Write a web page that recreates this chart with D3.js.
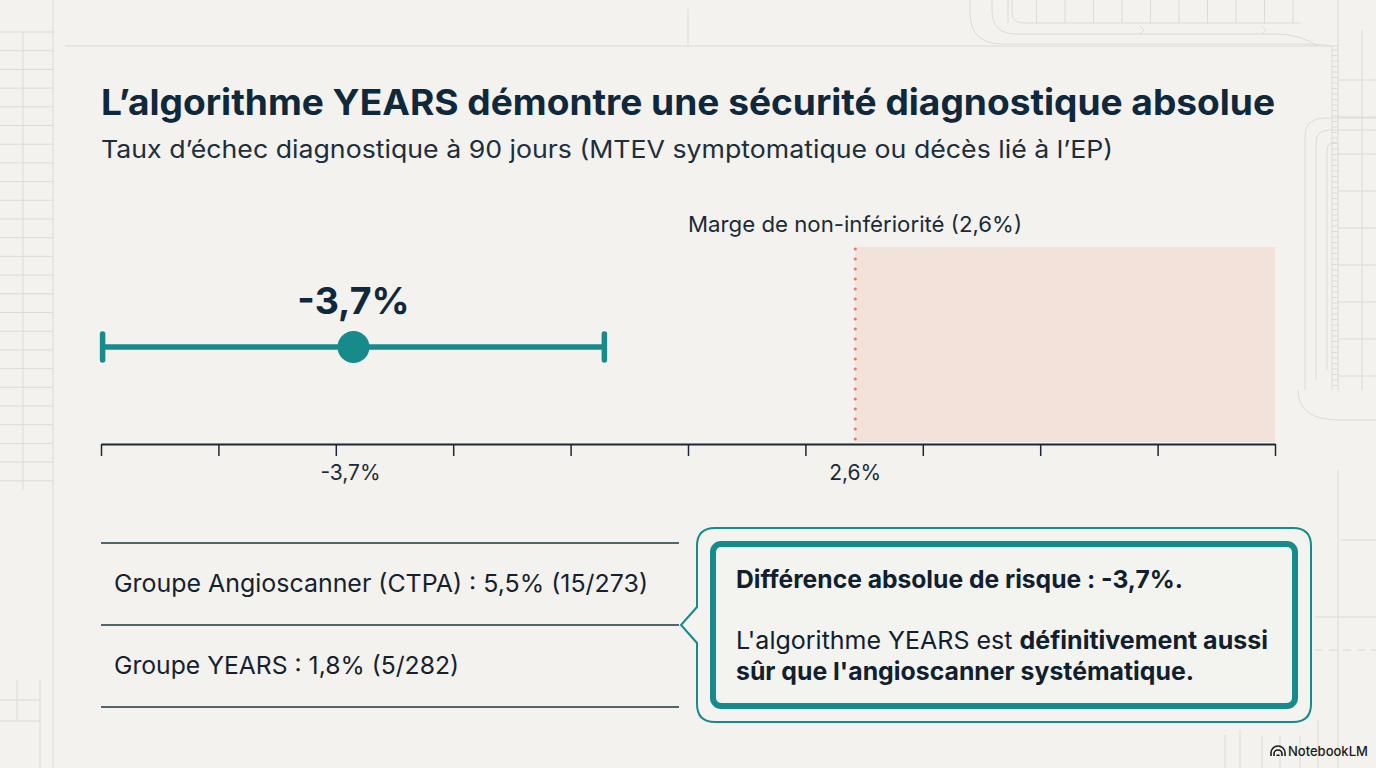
<!DOCTYPE html>
<html><head><meta charset="utf-8">
<script src="https://cdn.jsdelivr.net/npm/d3@7"></script>
<style>
html,body{margin:0;padding:0;background:#f3f2ee;}
svg{display:block;font-family:Inter,Roboto,"Noto Sans",sans-serif;}
</style></head>
<body><svg id="c" width="1376" height="768"></svg>
<script>
// ---- data ----
const title = "L’algorithme YEARS démontre une sécurité diagnostique absolue";
const subtitle = "Taux d’échec diagnostique à 90 jours (MTEV symptomatique ou décès lié à l’EP)";
const estimate = -3.7;          // absolute risk difference (%)
const ciLow = -6.85, ciHigh = -0.55;
const margin = 2.6;              // non-inferiority margin (%)
const axisDomain = [-6.87, 7.87];
const tickCount = 11;
const tickLabelValues = [-3.7, 2.6];
const tickLabels = ["-3,7%", "2,6%"];
const marginLabel = "Marge de non-infériorité (2,6%)";
const groupRows = ["Groupe Angioscanner (CTPA) : 5,5% (15/273)", "Groupe YEARS : 1,8% (5/282)"];
const calloutTitle = "Différence absolue de risque : -3,7%.";

const svg = d3.select("#c");
const W = 1376, H = 768;
const ink = "#10283b", teal = "#178a8c";

// ---- background decorations ----
const deco = svg.append("g").attr("stroke", "#dcdbd6").attr("fill", "none").attr("stroke-width", 1);
deco.append("line").attr("x1", 53).attr("x2", 53).attr("y1", 0).attr("y2", H);
deco.append("line").attr("x1", 65).attr("x2", 1338).attr("y1", 46).attr("y2", 46);
deco.append("line").attr("x1", 688).attr("x2", 688).attr("y1", 9).attr("y2", 46);
d3.range(32, 495, 18.7).forEach(y => deco.append("line").attr("x1", 0).attr("x2", 53).attr("y1", y).attr("y2", y));
deco.append("line").attr("x1", 23).attr("x2", 23).attr("y1", 32).attr("y2", 490);
deco.append("line").attr("x1", 0).attr("x2", 40).attr("y1", 700).attr("y2", 700);
deco.append("line").attr("x1", 0).attr("x2", 40).attr("y1", 721).attr("y2", 721);
deco.append("line").attr("x1", 40).attr("x2", 40).attr("y1", 680).attr("y2", H);
deco.append("line").attr("x1", 17).attr("x2", 17).attr("y1", 680).attr("y2", 721);
// top right circuit lines
deco.append("path").attr("d", "M970,0 V12 Q970,44 1002,44 H1300 Q1320,44 1330,46");
deco.append("path").attr("d", "M992,0 V10 Q992,34 1016,34 H1275 Q1300,34 1318,46");
deco.append("path").attr("d", "M1012,0 V12 Q1012,23 1023,23 H1300");
d3.range(1008, 1300, 28.5).forEach(x => deco.append("line").attr("x1", x).attr("x2", x).attr("y1", 0).attr("y2", 23));
deco.append("path").attr("d", "M1140,30 l4,4 l-4,4").attr("transform", "translate(0,-4)");
deco.append("path").attr("d", "M1262,30 l4,4 l-4,4").attr("transform", "translate(0,-4)");
// right side
deco.append("line").attr("x1", 1338).attr("x2", 1338).attr("y1", 0).attr("y2", 390);
deco.append("line").attr("x1", 1332).attr("x2", 1332).attr("y1", 46).attr("y2", 390);
d3.range(50, 390, 5.5).forEach(y => deco.append("line").attr("x1", 1332).attr("x2", 1338).attr("y1", y).attr("y2", y));
d3.range(80, 390, 37).forEach(y => deco.append("line").attr("x1", 1338).attr("x2", W).attr("y1", y).attr("y2", y));
deco.append("line").attr("x1", 1362).attr("x2", 1362).attr("y1", 30).attr("y2", 390);
deco.append("path").attr("d", "M1305,390 V136 Q1305,118 1325,118 H1376");
deco.append("path").attr("d", "M1316,380 V142 Q1316,130 1330,130 H1376");
deco.append("path").attr("d", "M1327,370 V150 Q1327,142 1337,142");
deco.append("path").attr("d", "M1376,420 H1340 Q1298,420 1298,390");
deco.append("path").attr("d", "M1376,540 H1340");
deco.append("path").attr("d", "M1315,617 H1376");
deco.append("path").attr("d", "M1315,650 H1376").attr("stroke-dasharray", "8,6");
deco.append("path").attr("d", "M1225,768 V735 M1240,768 V730 M1262,768 V736 M1280,768 V735 M1300,768 V736 M1318,768 V720");
deco.append("line").attr("x1", 1338).attr("x2", 1338).attr("y1", 470).attr("y2", 768);

// ---- titles ----
svg.append("text").attr("x", 101).attr("y", 115).attr("fill", ink)
  .attr("font-size", 35.5).attr("font-weight", 700).attr("textLength", 1174).attr("lengthAdjust", "spacingAndGlyphs").text(title);
svg.append("text").attr("x", 101).attr("y", 158).attr("fill", "#1e2e3b")
  .attr("font-size", 24.5).attr("textLength", 1012).attr("lengthAdjust", "spacingAndGlyphs").text(subtitle);

// ---- scale & axis ----
const x = d3.scaleLinear().domain(axisDomain).range([101, 1275]);
const axisY = 444;
const shadeTop = 247;

svg.append("rect").attr("x", x(margin)).attr("y", shadeTop)
  .attr("width", x(axisDomain[1]) - x(margin)).attr("height", axisY - shadeTop - 2)
  .attr("fill", "#f3e2da");
svg.append("line").attr("x1", x(margin)).attr("x2", x(margin))
  .attr("y1", shadeTop + 2).attr("y2", axisY - 3)
  .attr("stroke", "#da8270").attr("stroke-width", 3.2)
  .attr("stroke-linecap", "round").attr("stroke-dasharray", "0,10");
svg.append("text").attr("x", 688).attr("y", 232).attr("fill", "#1a2a36")
  .attr("font-size", 22).attr("textLength", 334).attr("lengthAdjust", "spacingAndGlyphs").text(marginLabel);

const tickVals = d3.range(tickCount).map(i => axisDomain[0] + i * (axisDomain[1] - axisDomain[0]) / (tickCount - 1));
const ax = d3.axisBottom(x).tickValues(tickVals).tickFormat("").tickSize(12).tickSizeOuter(0);
const gAx = svg.append("g").attr("transform", `translate(0,${axisY})`).call(ax);
gAx.select(".domain").attr("stroke", "#1b2833").attr("stroke-width", 2);
gAx.selectAll(".tick line").attr("stroke", "#1b2833").attr("stroke-width", 1.5);

svg.selectAll("text.tl").data(tickLabelValues).join("text").attr("class", "tl")
  .attr("x", (d, i) => x(d) - (i === 0 ? 3 : 0)).attr("y", 480).attr("text-anchor", "middle")
  .attr("fill", "#1a2a36").attr("font-size", 21).text((d, i) => tickLabels[i]);

// ---- estimate with CI ----
const ey = 347;
svg.append("line").attr("x1", x(ciLow)).attr("x2", x(ciHigh)).attr("y1", ey).attr("y2", ey)
  .attr("stroke", teal).attr("stroke-width", 5.5);
[ciLow, ciHigh].forEach(v => svg.append("line").attr("x1", x(v)).attr("x2", x(v))
  .attr("y1", ey - 13).attr("y2", ey + 13).attr("stroke", teal).attr("stroke-width", 5.5).attr("stroke-linecap", "round"));
svg.append("circle").attr("cx", x(estimate)).attr("cy", ey).attr("r", 16).attr("fill", teal);
svg.append("text").attr("x", x(estimate)).attr("y", 314).attr("text-anchor", "middle")
  .attr("fill", ink).attr("font-size", 37.5).attr("font-weight", 700).text("-3,7%");

// ---- group table ----
[543, 625, 707].forEach(y => svg.append("line").attr("x1", 101).attr("x2", 679).attr("y1", y).attr("y2", y)
  .attr("stroke", "#1c3440").attr("stroke-width", 1.5));
const rowW = [534, 345];
svg.selectAll("text.row").data(groupRows).join("text").attr("class", "row")
  .attr("x", 114).attr("y", (d, i) => 592 + i * 82).attr("fill", "#15222d").attr("font-size", 24.5)
  .attr("textLength", (d, i) => rowW[i]).attr("lengthAdjust", "spacingAndGlyphs").text(d => d);

// ---- callout ----
svg.append("path").attr("fill", "#f3f3f0").attr("stroke", teal).attr("stroke-width", 2)
  .attr("d", "M715,528 H1293 Q1311,528 1311,546 V704 Q1311,722 1293,722 H715 Q697,722 697,704 V643 L681,625 L697,607 V546 Q697,528 715,528 Z");
svg.append("rect").attr("x", 713).attr("y", 544).attr("width", 582).attr("height", 162).attr("rx", 8)
  .attr("fill", "#f3f3f0").attr("stroke", teal).attr("stroke-width", 6);
svg.append("text").attr("x", 736).attr("y", 588).attr("fill", "#10202e").attr("font-size", 24.5).attr("font-weight", 700)
  .attr("textLength", 447).attr("lengthAdjust", "spacingAndGlyphs").text(calloutTitle);
const t2 = svg.append("text").attr("x", 736).attr("y", 649).attr("fill", "#10202e").attr("font-size", 24.5)
  .attr("textLength", 532).attr("lengthAdjust", "spacingAndGlyphs");
t2.append("tspan").text("L'algorithme YEARS est ");
t2.append("tspan").attr("font-weight", 700).text("définitivement aussi");
svg.append("text").attr("x", 736).attr("y", 680).attr("fill", "#10202e").attr("font-size", 24.5).attr("font-weight", 700)
  .attr("textLength", 458).attr("lengthAdjust", "spacingAndGlyphs").text("sûr que l'angioscanner systématique.");

// ---- brand ----
const b = svg.append("g");
b.append("path").attr("d", "M1271,756 v-3 a7,7 0 0 1 14,0 v3 M1274,756 v-2 a4,4 0 0 1 8,0 v2 M1277,756 a1,1 0 0 1 2,0")
  .attr("fill", "none").attr("stroke", "#1a1a1a").attr("stroke-width", 1.6);
b.append("text").attr("x", 1288).attr("y", 756).attr("font-size", 13).attr("font-weight", 500).attr("fill", "#1a1a1a").text("NotebookLM");
</script></body></html>
